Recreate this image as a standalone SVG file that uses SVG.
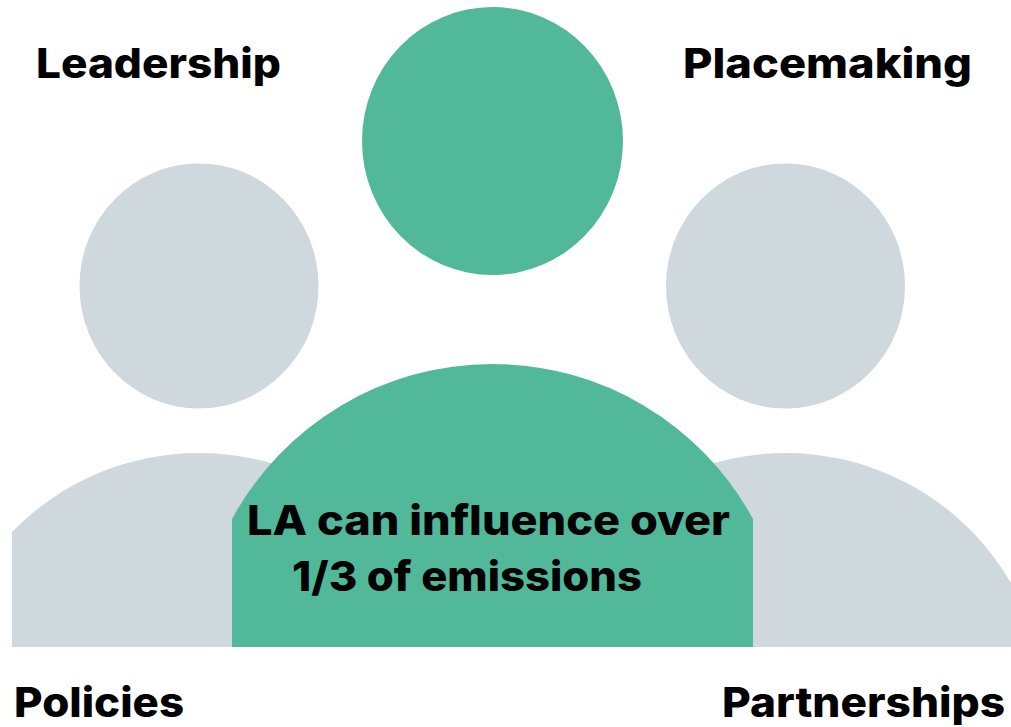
<svg xmlns="http://www.w3.org/2000/svg" width="1011" height="727" viewBox="0 0 1011 727">
<style>
.g{fill:#cfd8dc}.t{fill:#52b89a}
text{font-family:Inter,"Open Sans","Liberation Sans",sans-serif;font-weight:800;font-size:41px;fill:#000}
</style>
<rect width="1011" height="727" fill="#fff"/>
<g id="person-left"><ellipse class="g" cx="199" cy="286" rx="119.500" ry="122.500"/><path class="g" d="M12 532A260.700 260.700 0 0 1 386 532V647H12Z"/></g>
<g id="person-right"><ellipse class="g" cx="785.500" cy="286" rx="119.500" ry="122.500"/><path class="g" d="M600 647V530.500A260.700 260.700 0 0 1 1011 583V647Z"/></g>
<g id="person-center"><ellipse class="t" cx="492.500" cy="141" rx="130.500" ry="134"/><path class="t" d="M232 647V519A296.400 296.400 0 0 1 753 519V647Z"/></g>
<g id="labels">
<text x="36" y="78" textLength="245" lengthAdjust="spacingAndGlyphs">Leadership</text>
<text x="683" y="78" textLength="289" lengthAdjust="spacingAndGlyphs">Placemaking</text>
<text x="14" y="717" textLength="170" lengthAdjust="spacingAndGlyphs">Policies</text>
<text x="722" y="717" textLength="283" lengthAdjust="spacingAndGlyphs">Partnerships</text>
<text x="247" y="535" textLength="483" lengthAdjust="spacingAndGlyphs">LA can influence over</text>
<text x="292" y="591" textLength="350" lengthAdjust="spacingAndGlyphs">1/3 of emissions</text>
</g>
</svg>
